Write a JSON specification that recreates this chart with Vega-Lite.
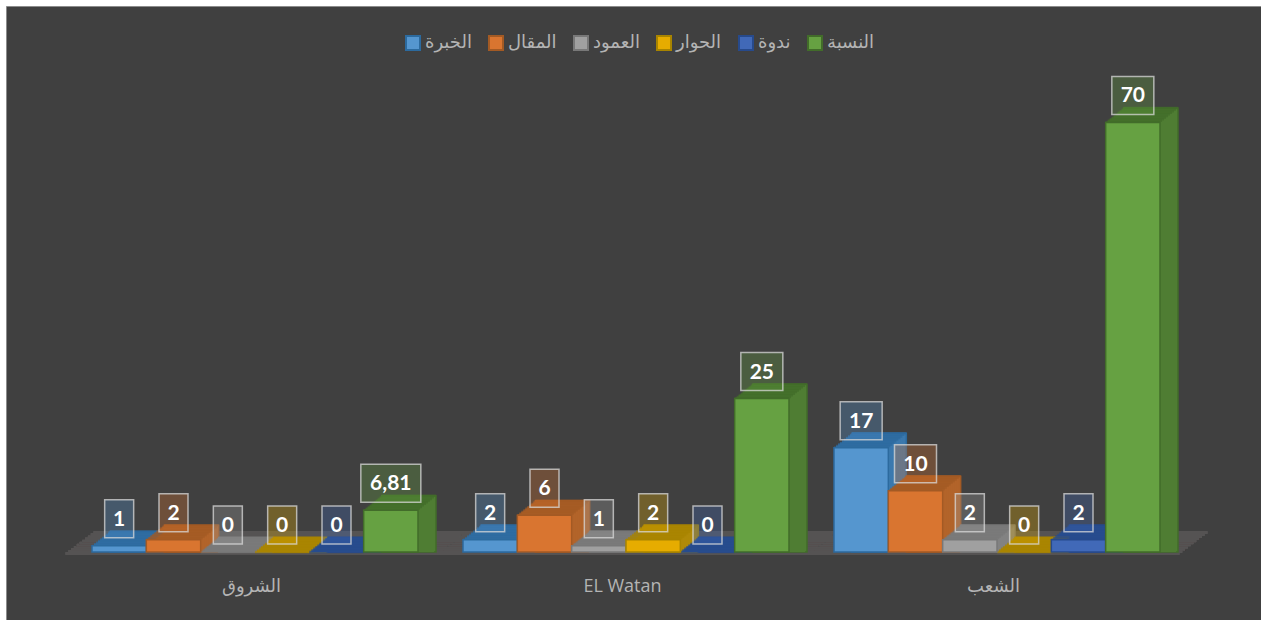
{"$schema":"https://vega.github.io/schema/vega-lite/v6.json","width":1255,"height":614,"autosize":"none","padding":{"left":6,"top":6,"right":0,"bottom":0},"background":"#ffffff",
"config":{"view":{"fill":"#404040","stroke":"#8c8c8c"},"font":"Lato, DejaVu Sans"},
"data":{"values":[
{"c":"الشروق","s":"الخبرة","v":1,"label":"1"},{"c":"الشروق","s":"المقال","v":2,"label":"2"},{"c":"الشروق","s":"العمود","v":0,"label":"0"},{"c":"الشروق","s":"الحوار","v":0,"label":"0"},{"c":"الشروق","s":"ندوة","v":0,"label":"0"},{"c":"الشروق","s":"النسبة","v":6.81,"label":"6,81"},
{"c":"EL Watan","s":"الخبرة","v":2,"label":"2"},{"c":"EL Watan","s":"المقال","v":6,"label":"6"},{"c":"EL Watan","s":"العمود","v":1,"label":"1"},{"c":"EL Watan","s":"الحوار","v":2,"label":"2"},{"c":"EL Watan","s":"ندوة","v":0,"label":"0"},{"c":"EL Watan","s":"النسبة","v":25,"label":"25"},
{"c":"الشعب","s":"الخبرة","v":17,"label":"17"},{"c":"الشعب","s":"المقال","v":10,"label":"10"},{"c":"الشعب","s":"العمود","v":2,"label":"2"},{"c":"الشعب","s":"الحوار","v":0,"label":"0"},{"c":"الشعب","s":"ندوة","v":2,"label":"2"},{"c":"الشعب","s":"النسبة","v":70,"label":"70"}]},
"encoding":{
"x":{"field":"c","type":"nominal","sort":null,"title":null,"scale":{"range":[86,1199],"paddingInner":0,"paddingOuter":0},"axis":{"ticks":false,"domain":false,"grid":false,"labelAngle":0,"labelOffset":-26,"offset":-44,"labelPadding":1,"labelBaseline":"top","labelFontSize":18,"labelColor":"#b4b4b4","labelFont":"Open Sans, DejaVu Sans"}},
"y":{"field":"v","type":"quantitative","title":null,"stack":null,"scale":{"domain":[0,80],"range":[546,55],"nice":false},"axis":null}},
"resolve":{"scale":{"xOffset":"independent"}},
"layer":[
{"mark":{"type":"tick","color":"#555454","size":372,"thickness":2.5,"xOffset":-26,"yOffset":1.5},"encoding":{"y":{"datum":0}}},
{"mark":{"type":"tick","color":"#555454","size":372,"thickness":2.5,"xOffset":-23.2,"yOffset":-0.6},"encoding":{"y":{"datum":0}}},
{"mark":{"type":"tick","color":"#555454","size":372,"thickness":2.5,"xOffset":-20.4,"yOffset":-2.7},"encoding":{"y":{"datum":0}}},
{"mark":{"type":"tick","color":"#555454","size":372,"thickness":2.5,"xOffset":-17.6,"yOffset":-4.8},"encoding":{"y":{"datum":0}}},
{"mark":{"type":"tick","color":"#555454","size":372,"thickness":2.5,"xOffset":-14.8,"yOffset":-6.9},"encoding":{"y":{"datum":0}}},
{"mark":{"type":"tick","color":"#555454","size":372,"thickness":2.5,"xOffset":-12,"yOffset":-9},"encoding":{"y":{"datum":0}}},
{"mark":{"type":"tick","color":"#555454","size":372,"thickness":2.5,"xOffset":-9.2,"yOffset":-11.1},"encoding":{"y":{"datum":0}}},
{"mark":{"type":"tick","color":"#555454","size":372,"thickness":2.5,"xOffset":-6.4,"yOffset":-13.2},"encoding":{"y":{"datum":0}}},
{"mark":{"type":"tick","color":"#555454","size":372,"thickness":2.5,"xOffset":-3.6,"yOffset":-15.3},"encoding":{"y":{"datum":0}}},
{"mark":{"type":"tick","color":"#555454","size":372,"thickness":2.5,"xOffset":-0.8,"yOffset":-17.4},"encoding":{"y":{"datum":0}}},
{"mark":{"type":"tick","color":"#555454","size":372,"thickness":2.5,"xOffset":2,"yOffset":-19.5},"encoding":{"y":{"datum":0}}},

{"mark":{"type":"bar","yOffset":-14.4,"strokeWidth":1.5},"encoding":{"xOffset":{"field":"s","sort":null,"scale":{"range":[18,344]}},"stroke":{"field":"s","type":"nominal","title":null},"fill":{"field":"s","type":"nominal","legend":null,"scale":{"domain":["النسبة","ندوة","الحوار","العمود","المقال","الخبرة"],"range":["#4f7d33","#2f5598","#b08a08","#828282","#b2642a","#3b79ae"]}}}},
{"mark":{"type":"bar","yOffset":-12.8},"encoding":{"xOffset":{"field":"s","sort":null,"scale":{"range":[16,342]}},"fill":{"field":"s","type":"nominal","legend":null}}},
{"mark":{"type":"bar","yOffset":-11.2},"encoding":{"xOffset":{"field":"s","sort":null,"scale":{"range":[14,340]}},"fill":{"field":"s","type":"nominal","legend":null}}},
{"mark":{"type":"bar","yOffset":-9.6},"encoding":{"xOffset":{"field":"s","sort":null,"scale":{"range":[12,338]}},"fill":{"field":"s","type":"nominal","legend":null}}},
{"mark":{"type":"bar","yOffset":-8},"encoding":{"xOffset":{"field":"s","sort":null,"scale":{"range":[10,336]}},"fill":{"field":"s","type":"nominal","legend":null}}},
{"mark":{"type":"bar","yOffset":-6.4},"encoding":{"xOffset":{"field":"s","sort":null,"scale":{"range":[8,334]}},"fill":{"field":"s","type":"nominal","legend":null}}},
{"mark":{"type":"bar","yOffset":-4.8},"encoding":{"xOffset":{"field":"s","sort":null,"scale":{"range":[6,332]}},"fill":{"field":"s","type":"nominal","legend":null}}},
{"mark":{"type":"bar","yOffset":-3.2},"encoding":{"xOffset":{"field":"s","sort":null,"scale":{"range":[4,330]}},"fill":{"field":"s","type":"nominal","legend":null}}},
{"mark":{"type":"bar","yOffset":-1.6},"encoding":{"xOffset":{"field":"s","sort":null,"scale":{"range":[2,328]}},"fill":{"field":"s","type":"nominal","legend":null}}},

{"mark":{"type":"tick","filled":false,"size":53,"thickness":1,"strokeWidth":1.4,"yOffset":-14.4},"encoding":{"xOffset":{"field":"s","sort":null,"scale":{"range":[18,344]}},"stroke":{"field":"s","type":"nominal","title":null,"scale":{"domain":["الخبرة","المقال","العمود","الحوار","ندوة","النسبة"],"range":["#2c6a9e","#a35a24","#787878","#a88400","#274a8c","#426c2a"]}}}},
{"mark":{"type":"tick","filled":false,"size":53,"thickness":1,"strokeWidth":1.4,"yOffset":-12.8},"encoding":{"xOffset":{"field":"s","sort":null,"scale":{"range":[16,342]}},"stroke":{"field":"s","type":"nominal","title":null}}},
{"mark":{"type":"tick","filled":false,"size":53,"thickness":1,"strokeWidth":1.4,"yOffset":-11.2},"encoding":{"xOffset":{"field":"s","sort":null,"scale":{"range":[14,340]}},"stroke":{"field":"s","type":"nominal","title":null}}},
{"mark":{"type":"tick","filled":false,"size":53,"thickness":1,"strokeWidth":1.4,"yOffset":-9.6},"encoding":{"xOffset":{"field":"s","sort":null,"scale":{"range":[12,338]}},"stroke":{"field":"s","type":"nominal","title":null}}},
{"mark":{"type":"tick","filled":false,"size":53,"thickness":1,"strokeWidth":1.4,"yOffset":-8},"encoding":{"xOffset":{"field":"s","sort":null,"scale":{"range":[10,336]}},"stroke":{"field":"s","type":"nominal","title":null}}},
{"mark":{"type":"tick","filled":false,"size":53,"thickness":1,"strokeWidth":1.4,"yOffset":-6.4},"encoding":{"xOffset":{"field":"s","sort":null,"scale":{"range":[8,334]}},"stroke":{"field":"s","type":"nominal","title":null}}},
{"mark":{"type":"tick","filled":false,"size":53,"thickness":1,"strokeWidth":1.4,"yOffset":-4.8},"encoding":{"xOffset":{"field":"s","sort":null,"scale":{"range":[6,332]}},"stroke":{"field":"s","type":"nominal","title":null}}},
{"mark":{"type":"tick","filled":false,"size":53,"thickness":1,"strokeWidth":1.4,"yOffset":-3.2},"encoding":{"xOffset":{"field":"s","sort":null,"scale":{"range":[4,330]}},"stroke":{"field":"s","type":"nominal","title":null}}},
{"mark":{"type":"tick","filled":false,"size":53,"thickness":1,"strokeWidth":1.4,"yOffset":-1.6},"encoding":{"xOffset":{"field":"s","sort":null,"scale":{"range":[2,328]}},"stroke":{"field":"s","type":"nominal","title":null}}},
{"mark":{"type":"tick","filled":false,"size":53,"thickness":1,"strokeWidth":1.4},"encoding":{"xOffset":{"field":"s","sort":null,"scale":{"range":[0,326]}},"stroke":{"field":"s","type":"nominal","title":null}}},

{"transform":[{"filter":"datum.v>0"}],"mark":{"type":"bar","strokeWidth":1.5},"encoding":{"xOffset":{"field":"s","scale":{"domain":["الخبرة","المقال","العمود","الحوار","ندوة","النسبة"],"range":[0,326]}},"color":{"field":"s","type":"nominal","title":null,"scale":{"domain":["الخبرة","المقال","العمود","الحوار","ندوة","النسبة"],"range":["#5596cf","#d97530","#a0a0a0","#e6ac00","#4169b8","#66a142"]},"legend":{"orient":"none","direction":"horizontal","columns":6,"legendX":398,"legendY":28,"symbolType":"square","symbolSize":196,"symbolStrokeWidth":2,"symbolOpacity":1,"labelFontSize":18,"labelColor":"#b4b4b4","labelOffset":3,"columnPadding":13,"labelFont":"DejaVu Sans"}},"stroke":{"field":"s","type":"nominal","title":null}}},

{"transform":[{"filter":"length(datum.label)==1"}],"mark":{"type":"tick","size":29,"thickness":38,"yOffset":-27,"stroke":"#d8d8d8","strokeOpacity":0.75,"strokeWidth":1.5,"fillOpacity":0.3},"encoding":{"xOffset":{"field":"s","scale":{"domain":["الخبرة","المقال","العمود","الحوار","ندوة","النسبة"],"range":[0,326]}},"color":{"field":"s","type":"nominal","title":null}}},
{"transform":[{"filter":"length(datum.label)==2"}],"mark":{"type":"tick","size":42,"thickness":38,"yOffset":-27,"stroke":"#d8d8d8","strokeOpacity":0.75,"strokeWidth":1.5,"fillOpacity":0.3},"encoding":{"xOffset":{"field":"s","scale":{"domain":["الخبرة","المقال","العمود","الحوار","ندوة","النسبة"],"range":[0,326]}},"color":{"field":"s","type":"nominal","title":null}}},
{"transform":[{"filter":"length(datum.label)==4"}],"mark":{"type":"tick","size":60,"thickness":38,"yOffset":-27,"stroke":"#d8d8d8","strokeOpacity":0.75,"strokeWidth":1.5,"fillOpacity":0.3},"encoding":{"xOffset":{"field":"s","scale":{"domain":["الخبرة","المقال","العمود","الحوار","ندوة","النسبة"],"range":[0,326]}},"color":{"field":"s","type":"nominal","title":null}}},
{"mark":{"type":"text","yOffset":-26,"baseline":"middle","align":"center","fontWeight":"bold","fontSize":21,"font":"Lato","color":"#ffffff"},"encoding":{"xOffset":{"field":"s","sort":null,"scale":{"range":[0,326]}},"text":{"field":"label"}}}
]}
